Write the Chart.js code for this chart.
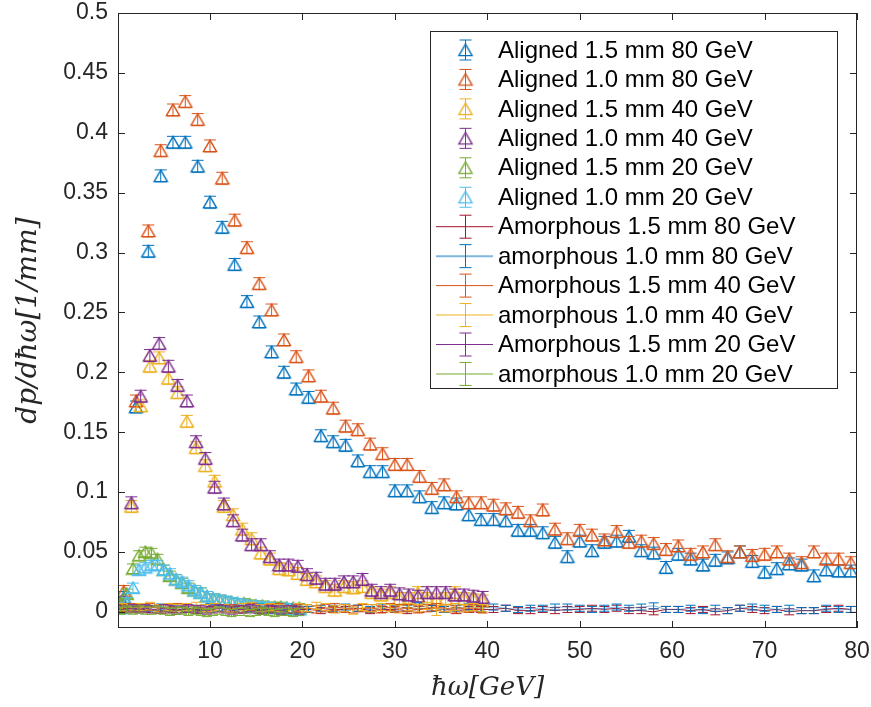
<!DOCTYPE html>
<html>
<head>
<meta charset="utf-8">
<script src="https://cdn.jsdelivr.net/npm/chart.js@4/dist/chart.umd.min.js"></script>
<style>
  html, body { margin: 0; padding: 0; background: #fff; }
  #wrap { width: 871px; height: 707px; }
</style>
</head>
<body>
<div id="wrap"><canvas id="chart" width="871" height="707"></canvas></div>
<script>
// photon energy bin centres [GeV]
const E80 = [0.67, 2.00, 3.33, 4.67, 6.00, 7.33, 8.67, 10.00, 11.33, 12.67,
  14.00, 15.33, 16.67, 18.00, 19.33, 20.67, 22.00, 23.33, 24.67, 26.00,
  27.33, 28.67, 30.00, 31.33, 32.67, 34.00, 35.33, 36.67, 38.00, 39.33,
  40.67, 42.00, 43.33, 44.67, 46.00, 47.33, 48.67, 50.00, 51.33, 52.67,
  54.00, 55.33, 56.67, 58.00, 59.33, 60.67, 62.00, 63.33, 64.67, 66.00,
  67.33, 68.67, 70.00, 71.33, 72.67, 74.00, 75.33, 76.67, 78.00, 79.33];
const E40 = [0.5, 1.5, 2.5, 3.5, 4.5, 5.5, 6.5, 7.5, 8.5, 9.5,
  10.5, 11.5, 12.5, 13.5, 14.5, 15.5, 16.5, 17.5, 18.5, 19.5,
  20.5, 21.5, 22.5, 23.5, 24.5, 25.5, 26.5, 27.5, 28.5, 29.5,
  30.5, 31.5, 32.5, 33.5, 34.5, 35.5, 36.5, 37.5, 38.5, 39.5];
const E20 = [0.33, 1.00, 1.67, 2.33, 3.00, 3.67, 4.33, 5.00, 5.67, 6.33,
  7.00, 7.67, 8.33, 9.00, 9.67, 10.33, 11.00, 11.67, 12.33, 13.00,
  13.67, 14.33, 15.00, 15.67, 16.33, 17.00, 17.67, 18.33, 19.00, 19.67];

// aligned crystal spectra dp/d(hbar w) [1/mm]
const al15_80 = [0.012, 0.171, 0.301, 0.364, 0.392, 0.392, 0.372, 0.342, 0.321, 0.290,
  0.259, 0.242, 0.217, 0.200, 0.186, 0.179, 0.147, 0.142, 0.139, 0.126,
  0.117, 0.117, 0.101, 0.101, 0.096, 0.087, 0.091, 0.090, 0.081, 0.077,
  0.077, 0.076, 0.068, 0.068, 0.066, 0.058, 0.046, 0.059, 0.051, 0.058,
  0.059, 0.063, 0.051, 0.049, 0.037, 0.048, 0.044, 0.039, 0.043, 0.045,
  0.050, 0.042, 0.033, 0.036, 0.040, 0.039, 0.030, 0.035, 0.034, 0.034];
const al10_80 = [0.017, 0.176, 0.318, 0.385, 0.419, 0.426, 0.411, 0.389, 0.362, 0.327,
  0.304, 0.274, 0.252, 0.227, 0.213, 0.197, 0.180, 0.170, 0.155, 0.152,
  0.140, 0.132, 0.123, 0.123, 0.113, 0.103, 0.106, 0.096, 0.091, 0.091,
  0.089, 0.086, 0.083, 0.076, 0.085, 0.069, 0.061, 0.068, 0.064, 0.060,
  0.067, 0.058, 0.059, 0.057, 0.052, 0.055, 0.048, 0.050, 0.056, 0.046,
  0.050, 0.047, 0.048, 0.050, 0.044, 0.041, 0.050, 0.044, 0.044, 0.041];
const al15_40 = [0.008, 0.088, 0.172, 0.205, 0.212, 0.195, 0.183, 0.159, 0.137, 0.122,
  0.109, 0.088, 0.081, 0.069, 0.061, 0.049, 0.044, 0.036, 0.035, 0.032,
  0.027, 0.025, 0.021, 0.018, 0.021, 0.020, 0.021, 0.016, 0.014, 0.016,
  0.011, 0.011, 0.016, 0.011, 0.010, 0.011, 0.016, 0.011, 0.010, 0.009];
const al10_40 = [0.008, 0.091, 0.180, 0.214, 0.224, 0.205, 0.189, 0.176, 0.142, 0.128,
  0.104, 0.090, 0.076, 0.064, 0.056, 0.056, 0.046, 0.039, 0.039, 0.038,
  0.031, 0.028, 0.023, 0.023, 0.025, 0.025, 0.027, 0.018, 0.016, 0.018,
  0.015, 0.014, 0.013, 0.016, 0.016, 0.016, 0.014, 0.014, 0.013, 0.012];
const al15_20 = [0.006, 0.015, 0.036, 0.047, 0.050, 0.049, 0.044, 0.035, 0.030, 0.027,
  0.024, 0.020, 0.018, 0.016, 0.013, 0.011, 0.010, 0.009, 0.008, 0.007,
  0.007, 0.006, 0.005, 0.005, 0.004, 0.004, 0.004, 0.003, 0.003, 0.003];
const al10_20 = [0.003, 0.008, 0.020, 0.035, 0.037, 0.039, 0.039, 0.035, 0.032, 0.027,
  0.025, 0.022, 0.018, 0.016, 0.013, 0.011, 0.010, 0.009, 0.008, 0.007,
  0.006, 0.005, 0.005, 0.004, 0.004, 0.003, 0.003, 0.003, 0.002, 0.002];

// amorphous target spectra
const am15_80 = [0.003, 0.002, 0.002, 0.001, 0.002, 0.002, 0.001, 0.002, 0.003, 0.002,
  0.002, 0.001, 0.002, 0.003, 0.002, 0.002, 0.001, 0.002, 0.002, 0.003,
  0.001, 0.002, 0.002, 0.001, 0.002, 0.003, 0.002, 0.001, 0.002, 0.002,
  0.002, 0.003, 0.001, 0.001, 0.002, 0.001, 0.002, 0.002, 0.003, 0.002,
  0.003, 0.001, 0.001, 0.000, 0.002, 0.002, 0.001, 0.002, 0.000, 0.001,
  0.003, 0.002, 0.001, 0.002, 0.000, 0.001, 0.001, 0.002, 0.003, 0.002];
const am10_80 = [0.004, 0.003, 0.003, 0.004, 0.003, 0.002, 0.003, 0.004, 0.003, 0.003,
  0.002, 0.004, 0.003, 0.003, 0.004, 0.002, 0.003, 0.003, 0.004, 0.003,
  0.002, 0.004, 0.003, 0.003, 0.005, 0.003, 0.002, 0.003, 0.004, 0.003,
  0.004, 0.003, 0.002, 0.003, 0.003, 0.004, 0.004, 0.003, 0.002, 0.003,
  0.004, 0.003, 0.004, 0.005, 0.002, 0.002, 0.003, 0.001, 0.003, 0.001,
  0.003, 0.004, 0.003, 0.002, 0.003, 0.001, 0.001, 0.003, 0.002, 0.002];
const am15_40 = [0.003, 0.004, 0.003, 0.004, 0.003, 0.003, 0.004, 0.003, 0.002, 0.003,
  0.004, 0.003, 0.003, 0.002, 0.004, 0.003, 0.003, 0.004, 0.002, 0.003,
  0.003, 0.002, 0.003, 0.004, 0.003, 0.002, 0.003, 0.003, 0.002, 0.004,
  0.003, 0.003, 0.002, 0.003, 0.004, 0.003, 0.002, 0.003, 0.003, 0.002];
const am10_40 = [0.004, 0.003, 0.004, 0.005, 0.003, 0.004, 0.003, 0.004, 0.005, 0.003,
  0.004, 0.003, 0.002, 0.004, 0.005, 0.003, 0.004, 0.003, 0.002, 0.004,
  0.003, 0.005, 0.004, 0.002, 0.003, 0.001, 0.004, 0.003, 0.004, 0.003,
  0.002, 0.004, 0.003, 0.005, 0.000, 0.003, 0.004, 0.003, 0.004, 0.003];
const am15_20 = [0.002, 0.002, 0.003, 0.002, 0.003, 0.002, 0.002, 0.003, 0.002, 0.001,
  0.002, 0.003, 0.002, 0.002, 0.001, 0.002, 0.003, 0.002, 0.001, 0.002,
  0.002, 0.003, 0.002, 0.001, 0.002, 0.002, 0.001, 0.002, 0.002, 0.001];
const am10_20 = [0.001, 0.002, 0.001, 0.002, 0.001, 0.001, 0.002, 0.001, 0.000, 0.001,
  0.001, 0.000, 0.001, 0.000, -0.001, 0.000, 0.001, 0.000, -0.001, 0.000,
  0.000, -0.001, 0.000, 0.001, 0.000, -0.001, 0.000, 0.000, -0.001, 0.000];

const X_TICKS = [10, 20, 30, 40, 50, 60, 70, 80];
const Y_TICKS = [0, 0.05, 0.1, 0.15, 0.2, 0.25, 0.3, 0.35, 0.4, 0.45, 0.5];

const LABELS = [
  "Aligned 1.5 mm 80 GeV", "Aligned 1.0 mm 80 GeV", "Aligned 1.5 mm 40 GeV",
  "Aligned 1.0 mm 40 GeV", "Aligned 1.5 mm 20 GeV", "Aligned 1.0 mm 20 GeV",
  "Amorphous 1.5 mm 80 GeV", "amorphous 1.0 mm 80 GeV", "Amorphous 1.5 mm 40 GeV",
  "amorphous 1.0 mm 40 GeV", "Amorphous 1.5 mm 20 GeV", "amorphous 1.0 mm 20 GeV"
];

const BLUE = "#0072BD", ORANGE = "#D95319", YELLOW = "#EDB120", PURPLE = "#7E2F8E",
  GREEN = "#77AC30", CYAN = "#4DBEEE", DARKRED = "#A2142F";
const AXIS = "#262626";
const SANS = "'Liberation Sans', Arial, Helvetica, sans-serif";
const SERIF = "'DejaVu Serif', 'Liberation Serif', serif";

// outlined triangle marker, centred on its bounding box like MATLAB's '^'
function triangleImg(color) {
  const c = document.createElement("canvas");
  c.width = 18; c.height = 18;
  const g = c.getContext("2d");
  g.strokeStyle = color;
  g.lineWidth = 1.4;
  g.beginPath();
  g.moveTo(9, 3.2);
  g.lineTo(15.6, 14.6);
  g.lineTo(2.4, 14.6);
  g.closePath();
  g.stroke();
  return c;
}

function pts(xs, ys) {
  return xs.map((x, i) => ({ x: x, y: ys[i] }));
}

function aligned(k, xs, ys, color, err) {
  return {
    label: LABELS[k], data: pts(xs, ys), order: -k,
    showLine: false, pointStyle: triangleImg(color), pointRadius: 8,
    borderColor: color, backgroundColor: color,
    errBar: err, errColor: color, capHalf: 6, kind: "aligned"
  };
}

function amorphous(k, xs, ys, color, lineColor, err) {
  return {
    label: LABELS[k], data: pts(xs, ys), order: -k,
    showLine: true, pointRadius: 0, borderWidth: 1, tension: 0,
    borderColor: lineColor, backgroundColor: lineColor,
    errBar: err, errColor: color, capHalf: 5, kind: "amorphous"
  };
}

const datasets = [
  aligned(0, E80, al15_80, BLUE, 0.005),
  aligned(1, E80, al10_80, ORANGE, 0.005),
  aligned(2, E40, al15_40, YELLOW, 0.005),
  aligned(3, E40, al10_40, PURPLE, 0.005),
  aligned(4, E20, al15_20, GREEN, 0.004),
  aligned(5, E20, al10_20, CYAN, 0.004),
  amorphous(6, E80, am15_80, DARKRED, DARKRED, 0.0025),
  amorphous(7, E80, am10_80, BLUE, "rgba(0,114,189,0.5)", 0.0025),
  amorphous(8, E40, am15_40, ORANGE, ORANGE, 0.003),
  amorphous(9, E40, am10_40, YELLOW, "rgba(237,177,32,0.5)", 0.003),
  amorphous(10, E20, am15_20, PURPLE, PURPLE, 0.003),
  amorphous(11, E20, am10_20, GREEN, "rgba(119,172,48,0.5)", 0.003)
];

function drawBar(ctx, x, yTop, yBot, half) {
  ctx.beginPath();
  ctx.moveTo(x, yTop); ctx.lineTo(x, yBot);
  ctx.moveTo(x - half, yTop); ctx.lineTo(x + half, yTop);
  ctx.moveTo(x - half, yBot); ctx.lineTo(x + half, yBot);
  ctx.stroke();
}

const errorBars = {
  id: "errorBars",
  afterDatasetDraw(chart, args) {
    const ds = chart.data.datasets[args.index];
    if (!ds.errBar) return;
    const ctx = chart.ctx, ys = chart.scales.y, a = chart.chartArea;
    ctx.save();
    ctx.beginPath();
    ctx.rect(a.left, a.top, a.right - a.left, a.bottom - a.top);
    ctx.clip();
    ctx.strokeStyle = ds.errColor;
    ctx.lineWidth = 1;
    args.meta.data.forEach((p, i) => {
      const v = ds.data[i].y;
      drawBar(ctx, p.x, ys.getPixelForValue(v + ds.errBar), ys.getPixelForValue(v - ds.errBar), ds.capHalf);
    });
    ctx.restore();
  }
};

// box round the axes with inward ticks on all four sides
const axesBox = {
  id: "axesBox",
  afterDatasetsDraw(chart) {
    const ctx = chart.ctx, a = chart.chartArea, xs = chart.scales.x, ys = chart.scales.y;
    const tl = 7;
    ctx.save();
    ctx.strokeStyle = AXIS;
    ctx.lineWidth = 1;
    ctx.strokeRect(a.left + 0.5, a.top + 0.5, a.right - a.left - 1, a.bottom - a.top - 1);
    ctx.beginPath();
    X_TICKS.forEach(v => {
      const px = Math.round(xs.getPixelForValue(v)) + 0.5;
      ctx.moveTo(px, a.bottom); ctx.lineTo(px, a.bottom - tl);
      ctx.moveTo(px, a.top); ctx.lineTo(px, a.top + tl);
    });
    Y_TICKS.forEach(v => {
      const py = Math.round(ys.getPixelForValue(v)) + 0.5;
      ctx.moveTo(a.left, py); ctx.lineTo(a.left + tl, py);
      ctx.moveTo(a.right, py); ctx.lineTo(a.right - tl, py);
    });
    ctx.stroke();
    ctx.restore();
  }
};

const boxLegend = {
  id: "boxLegend",
  afterDraw(chart) {
    const ctx = chart.ctx;
    const L = 430.5, T = 31.5, W = 407, H = 357, row = 29.45;
    const sx = 465, tx = 498;
    ctx.save();
    ctx.fillStyle = "#fff";
    ctx.fillRect(L, T, W, H);
    ctx.strokeStyle = AXIS;
    ctx.lineWidth = 1;
    ctx.strokeRect(L, T, W, H);
    chart.data.datasets.forEach((ds, k) => {
      const cy = T + 18.5 + k * row;
      ctx.lineWidth = 1;
      if (ds.kind === "aligned") {
        ctx.strokeStyle = ds.errColor;
        drawBar(ctx, sx + 0.5, cy - 10, cy + 10, 6);
        ctx.drawImage(ds.pointStyle, sx + 0.5 - 9, cy - 9);
      } else {
        ctx.strokeStyle = ds.borderColor;
        ctx.lineWidth = ds.borderColor.startsWith("rgba") ? 2 : 1;
        ctx.beginPath();
        ctx.moveTo(436, cy); ctx.lineTo(493, cy);
        ctx.stroke();
        ctx.lineWidth = 1;
        ctx.strokeStyle = ds.errColor;
        drawBar(ctx, sx + 0.5, cy - 11.5, cy + 11.5, 6);
      }
      ctx.fillStyle = "#000";
      ctx.font = "24px " + SANS;
      ctx.textBaseline = "middle";
      ctx.textAlign = "left";
      ctx.fillText(ds.label, tx, cy + 1);
    });
    ctx.restore();
  }
};

new Chart(document.getElementById("chart"), {
  type: "line",
  data: { datasets: datasets },
  options: {
    responsive: false,
    animation: false,
    events: [],
    layout: { padding: { left: 0, right: 14, top: 13, bottom: 0 } },
    plugins: { legend: { display: false }, tooltip: { enabled: false } },
    scales: {
      x: {
        type: "linear", min: 0.05, max: 80,
        afterBuildTicks: s => { s.ticks = X_TICKS.map(v => ({ value: v })); },
        afterFit: s => { s.height = 79; s.paddingLeft = 0; s.paddingRight = 0; },
        grid: { display: false, drawTicks: false },
        border: { display: false },
        ticks: { color: AXIS, padding: 12, maxRotation: 0, autoSkip: false,
          font: { family: SANS, size: 23, lineHeight: 1 } },
        title: { display: true, text: "ħω[GeV]", color: AXIS,
          font: { family: SERIF, size: 26, style: "italic", lineHeight: 1.2 },
          padding: { top: 0, bottom: 3 } }
      },
      y: {
        type: "linear", min: -0.0135, max: 0.5,
        afterBuildTicks: s => { s.ticks = Y_TICKS.map(v => ({ value: v })); },
        afterFit: s => { s.width = 118; s.paddingTop = 0; s.paddingBottom = 0; },
        grid: { display: false, drawTicks: false },
        border: { display: false },
        ticks: { color: AXIS, padding: 10, autoSkip: false,
          callback: v => String(+v.toFixed(2)),
          font: { family: SANS, size: 23, lineHeight: 1 } },
        title: { display: true, text: "dp/dħω[1/mm]", color: AXIS,
          font: { family: SERIF, size: 28, style: "italic", lineHeight: 1.2 },
          padding: { top: 12, bottom: 0 } }
      }
    }
  },
  plugins: [errorBars, axesBox, boxLegend]
});
</script>
</body>
</html>
